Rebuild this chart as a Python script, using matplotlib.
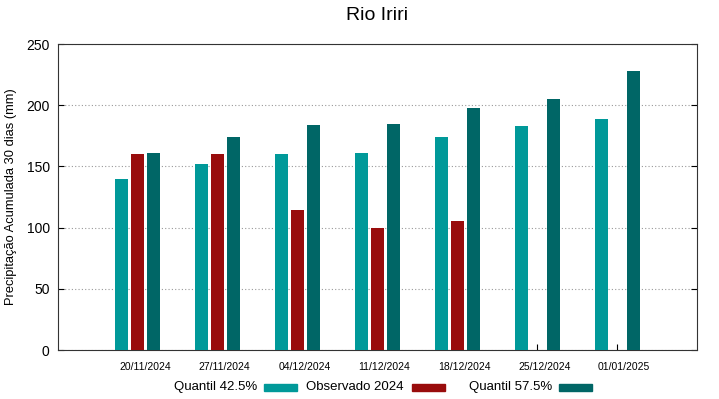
import matplotlib
matplotlib.use("Agg")
import matplotlib.pyplot as plt
from matplotlib.patches import Rectangle
import numpy as np

plt.rcParams['font.family'] = ['Liberation Sans', 'DejaVu Sans']

dates = ["20/11/2024", "27/11/2024", "04/12/2024", "11/12/2024",
         "18/12/2024", "25/12/2024", "01/01/2025"]
q425 = [140, 152, 160, 161, 174, 183, 189]
obs2024 = [160, 160, 114, 100, 105, np.nan, np.nan]
q575 = [161, 174, 184, 185, 198, 205, 228]

series_names = ["Quantil 42.5%", "Observado 2024", "Quantil 57.5%"]
colors = ["#009999", "#990c0c", "#006666"]

fig = plt.figure(figsize=(7.19, 3.99), dpi=100)
ax = fig.add_axes([58/719, 49/399, 639/719, 306/399])

x = np.arange(len(dates))
w = 0.165
off = 0.2
for i, (vals, c) in enumerate(zip([q425, obs2024, q575], colors)):
    ax.bar(x + (i - 1) * off, vals, width=w, color=c, zorder=3)

ax.set_xlim(-1, 7)
ax.set_ylim(0, 250)
ax.set_yticks([0, 50, 100, 150, 200, 250])
# tick marks at group centres, labels slightly right (gnuplot look)
ax.set_xticks(x)
ax.set_xticklabels([])
ax.set_xticks(x + 0.0875, minor=True)
ax.set_xticklabels(dates, minor=True, fontsize=7.5)
ax.tick_params(axis='x', which='minor', length=0, pad=9)
ax.tick_params(axis='x', which='major', direction='in', length=4)
ax.tick_params(axis='y', labelsize=10, direction='in', length=4, right=True, pad=6)
for sp in ax.spines.values():
    sp.set_linewidth(0.8)
    sp.set_color('#333333')
ax.grid(axis='y', linestyle=(0, (1, 2)), color='#999999', linewidth=0.8, zorder=0)

ax.set_ylabel("Precipitação Acumulada 30 dias (mm)", fontsize=9.3)
ax.yaxis.set_label_coords((17 - 58) / 639, 0.5)
fig.text(377.5/719, 1 - 15/399, "Rio Iriri", ha='center', va='center', fontsize=14)

# legend (gnuplot style: text then sample)
leg_y = 1 - 387/399
text_right = [257, 403, 552]
samp_left = [264, 412, 559]
for name, c, tr, sl in zip(series_names, colors, text_right, samp_left):
    fig.text(tr/719, leg_y, name, ha='right', va='center', fontsize=9.5)
    fig.patches.append(Rectangle((sl/719, leg_y - 3.5/399), 33/719, 7/399,
                                 transform=fig.transFigure, color=c, figure=fig))

fig.savefig("out.png", dpi=100)
